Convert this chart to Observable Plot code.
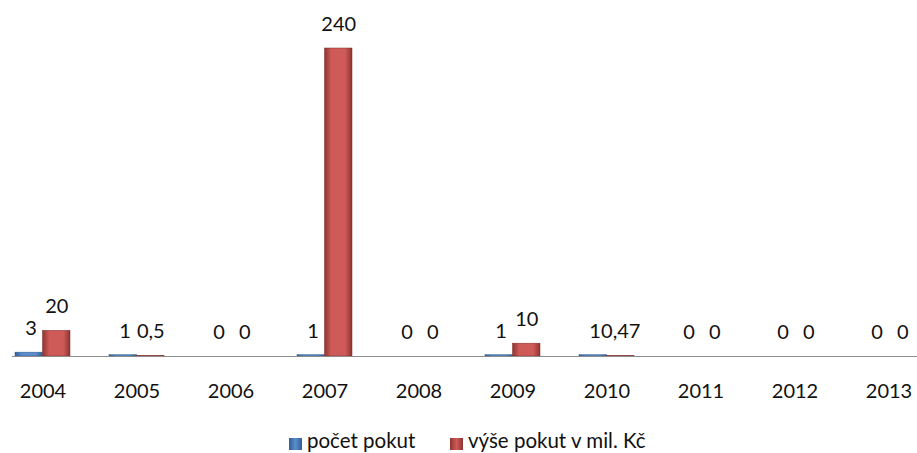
<!DOCTYPE html>
<html>
<head>
<meta charset="utf-8">
<script src="https://cdn.jsdelivr.net/npm/d3@7"></script>
<script src="https://cdn.jsdelivr.net/npm/@observablehq/plot@0.6"></script>
<style>
  html, body { margin: 0; padding: 0; background: #fff; }
  #wrap { width: 917px; height: 453px; overflow: hidden; position: relative; font-family: Lato, "Open Sans", sans-serif; }
  #chart { position: absolute; left: 0; top: 0; }
  #legend { position: absolute; left: 0; top: 428px; width: 917px; height: 25px; font-size: 20.5px; line-height: 25px; color: #111; white-space: nowrap; }
  .item { position: absolute; top: 0; }
  .sw { position: absolute; top: 10px; width: 13px; height: 12px; }
</style>
</head>
<body>
<div id="wrap">
  <div id="chart"></div>
  <div id="legend"></div>
</div>
<script>
const years = ["2004", "2005", "2006", "2007", "2008", "2009", "2010", "2011", "2012", "2013"];
const pocetPokut = [3, 1, 0, 1, 0, 1, 1, 0, 0, 0];
const vysePokut = [20, 0.5, 0, 240, 0, 10, 0.47, 0, 0, 0];
const seriesNames = ["počet pokut", "výše pokut v mil. Kč"];

const data = years.map((y, i) => ({ year: y, pocet: pocetPokut[i], vyse: vysePokut[i] }));
const fmt = v => String(v).replace(".", ",");

const chart = Plot.plot({
  width: 917,
  height: 412,
  marginTop: 48,
  marginBottom: 56,
  marginLeft: 12,
  marginRight: 0,
  x: { domain: years, range: [-6.75, 938.25], paddingInner: 0.418, paddingOuter: 0.209, align: 0.5 },
  y: { domain: [0, 240], axis: null },
  style: { fontFamily: "Lato, 'Open Sans', sans-serif", fontSize: "20px", color: "#111", background: "#fff", overflow: "visible" },
  marks: [
    Plot.barY(data, { x: "year", y: "pocet", fill: "url(#gBlue)", stroke: "#2f5a8c", strokeWidth: 0.5, insetRight: 27.5 }),
    Plot.barY(data, { x: "year", y: "vyse", fill: "url(#gRed)", stroke: "#7f2f2d", strokeWidth: 0.5, insetLeft: 27.5 }),
    Plot.ruleY([0], { stroke: "#8c8c8c", strokeWidth: 1.2 }),
    Plot.text(data, { x: "year", y: "pocet", text: d => fmt(d.pocet), dx: -12, dy: -24, fontSize: 20, fill: "#111" }),
    Plot.text(data, { x: "year", y: "vyse", text: d => fmt(d.vyse), dx: 13.75, dy: -24, fontSize: 20, fill: "#111" }),
    Plot.axisX({ tickSize: 0, tickPadding: 27, fontSize: 20, label: null })
  ]
});

const svg = d3.select(chart);
const defs = svg.insert("defs", ":first-child");
function grad(id, edge, mid) {
  const g = defs.append("linearGradient").attr("id", id).attr("x1", "0").attr("x2", "1").attr("y1", "0").attr("y2", "0");
  g.append("stop").attr("offset", "0%").attr("stop-color", edge);
  g.append("stop").attr("offset", "25%").attr("stop-color", mid);
  g.append("stop").attr("offset", "75%").attr("stop-color", mid);
  g.append("stop").attr("offset", "100%").attr("stop-color", edge);
}
grad("gBlue", "#2f5f9a", "#5b8ccb");
grad("gRed", "#8e3431", "#cf5b58");

document.getElementById("chart").appendChild(chart);

const legend = document.getElementById("legend");
const items = [
  { name: seriesNames[0], fill: "linear-gradient(90deg,#2f5f9a,#5b8ccb,#2f5f9a)", sw: 289, tx: 307 },
  { name: seriesNames[1], fill: "linear-gradient(90deg,#8e3431,#cf5b58,#8e3431)", sw: 450, tx: 468 }
];
for (const it of items) {
  const s = document.createElement("div");
  s.className = "sw";
  s.style.left = it.sw + "px";
  s.style.background = it.fill;
  legend.appendChild(s);
  const t = document.createElement("div");
  t.className = "item";
  t.style.left = it.tx + "px";
  t.textContent = it.name;
  legend.appendChild(t);
}
</script>
</body>
</html>
